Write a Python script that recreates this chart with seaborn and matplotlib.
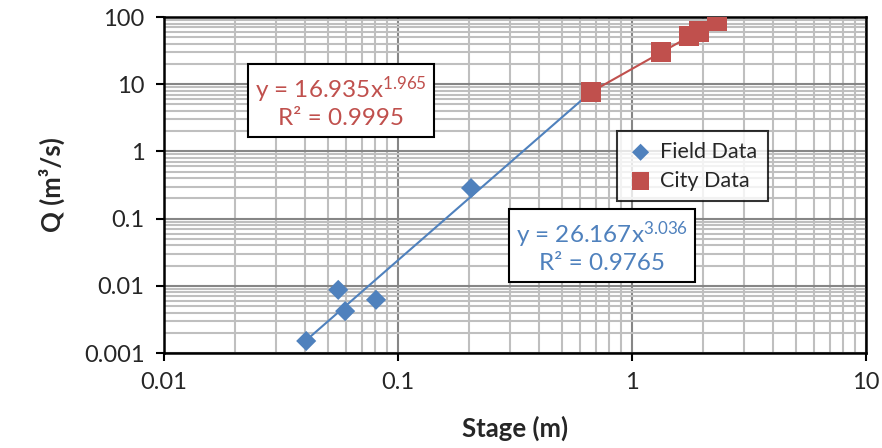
import numpy as np
import pandas as pd
import matplotlib
matplotlib.use("Agg")
import matplotlib.pyplot as plt
import seaborn as sns

# data
field_stage = [0.0405, 0.0555, 0.0594, 0.0805, 0.205]
field_q = [0.00151, 0.0087, 0.0042, 0.0062, 0.285]
city_stage = [0.668, 1.33, 1.75, 1.93, 2.31]
city_q = [7.66, 30.1, 52.0, 61.0, 87.0]

# power trendlines y = a * x^b
field_fit = (26.167, 3.036, 0.9765)
city_fit = (16.935, 1.965, 0.9995)

x_ticks = [0.01, 0.1, 1, 10]
x_tick_labels = ["0.01", "0.1", "1", "10"]
y_ticks = [0.001, 0.01, 0.1, 1, 10, 100]
y_tick_labels = ["0.001", "0.01", "0.1", "1", "10", "100"]

blue = "#4F81BD"
red = "#C0504D"

sns.set_theme(style="white")
plt.rcParams["font.family"] = ["Lato", "DejaVu Sans"]
plt.rcParams["mathtext.default"] = "regular"

fig = plt.figure(figsize=(8.82, 4.48), dpi=100)
ax = fig.add_axes([0.186, 0.212, 0.796, 0.750])

ax.set_xscale("log")
ax.set_yscale("log")
ax.set_xlim(0.01, 10)
ax.set_ylim(0.001, 100)

# grid
ax.xaxis.set_minor_locator(matplotlib.ticker.LogLocator(base=10, subs=np.arange(2, 10)))
ax.yaxis.set_minor_locator(matplotlib.ticker.LogLocator(base=10, subs=np.arange(2, 10)))
ax.grid(True, which="minor", color="#BFBFBF", linewidth=1.5, zorder=0)
ax.grid(True, which="major", color="#868686", linewidth=1.5, zorder=0)
ax.set_axisbelow(True)

# trendlines
xf = np.array([min(field_stage), min(city_stage)])
trend_field = pd.DataFrame({"x": xf, "y": field_fit[0] * xf ** field_fit[1]})
xc = np.array([min(city_stage), max(city_stage)])
trend_city = pd.DataFrame({"x": xc, "y": city_fit[0] * xc ** city_fit[1]})
sns.lineplot(data=trend_field, x="x", y="y", ax=ax, color=blue, linewidth=1.5, zorder=3)
sns.lineplot(data=trend_city, x="x", y="y", ax=ax, color=red, linewidth=1.5, zorder=3)

# points
sns.scatterplot(x=field_stage, y=field_q, ax=ax, marker="D", s=105, color=blue,
                edgecolor="none", label="Field Data", zorder=4)
sns.scatterplot(x=city_stage, y=city_q, ax=ax, marker="s", s=215, color=red,
                edgecolor="none", label="City Data", zorder=4)

ax.set_xticks(x_ticks)
ax.set_xticklabels(x_tick_labels)
ax.set_yticks(y_ticks)
ax.set_yticklabels(y_tick_labels)
ax.tick_params(which="major", direction="out", length=6, width=1.5, color="black",
               labelsize=17, pad=8, bottom=True, left=True)
ax.tick_params(which="minor", length=0)
for side in ax.spines.values():
    side.set_color("black")
    side.set_linewidth(1.8)

ax.set_xlabel("Stage (m)", fontsize=18.5, fontweight="bold", labelpad=16)
ax.set_ylabel("Q (m³/s)", fontsize=18.5, fontweight="bold", labelpad=14)

leg = ax.legend(loc="center", bbox_to_anchor=(0.785, 0.629), bbox_transform=fig.transFigure,
                fontsize=15.5, frameon=True, fancybox=False, edgecolor="black",
                handletextpad=0.3, borderpad=0.5, labelspacing=0.4, handlelength=1.2,
                markerscale=0.85)
leg.get_frame().set_linewidth(1.5)

box = dict(boxstyle="square,pad=0.3", facecolor="white", edgecolor="black", linewidth=1.5)
fig.text(341 / 882, 1 - 102 / 448,
         f"y = {city_fit[0]:.3f}x$^{{{city_fit[1]:.3f}}}$\nR² = {city_fit[2]:.4f}",
         color=red, fontsize=17.5, ha="center", va="center", ma="center",
         linespacing=1.2, bbox=box, zorder=6)
fig.text(602 / 882, 1 - 247 / 448,
         f"y = {field_fit[0]:.3f}x$^{{{field_fit[1]:.3f}}}$\nR² = {field_fit[2]:.4f}",
         color=blue, fontsize=17.5, ha="center", va="center", ma="center",
         linespacing=1.2, bbox=box, zorder=6)

fig.savefig("out.png", dpi=100)
